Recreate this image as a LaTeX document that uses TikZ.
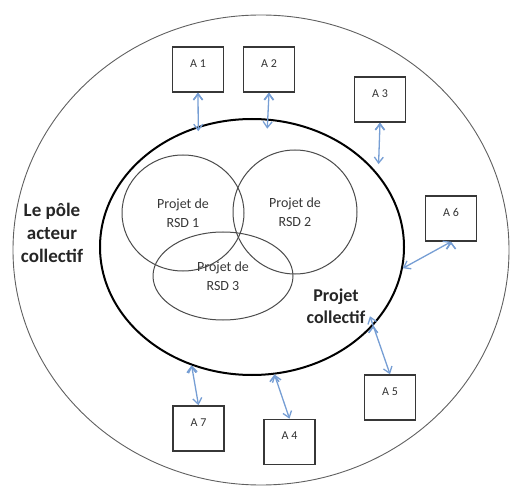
\documentclass[tikz,border=0pt]{standalone}
\usepackage{fontspec}
\setmainfont{Carlito}
\usetikzlibrary{shapes.geometric}
\usetikzlibrary{arrows.meta}
\definecolor{lienbleu}{RGB}{118,158,212}
\definecolor{trait}{RGB}{55,55,55}
\tikzset{
acteur/.style={
  draw=trait,line width=1.6pt,minimum width=51pt,minimum height=45pt,
  inner sep=0pt,text depth=12pt,font=\fontsize{12}{14}\selectfont,text=black!80},
rsd/.style={
  ellipse,draw=trait!90,line width=1pt,inner sep=0pt,align=center,
  font=\fontsize{14}{19}\selectfont,text=trait},
lien/.style={
  draw=lienbleu,line width=1.3pt,<->,>={Straight Barb[length=6pt,width=9pt]}}
}
\begin{document}
\begin{tikzpicture}[x=1pt,y=-1pt]
\useasboundingbox (0,0) rectangle (511,486);
\node[ellipse,draw=gray!75!black,line width=0.9pt,minimum width=496pt,minimum height=470pt](pole) at (261,250){};
\node[ellipse,draw,line width=2pt,minimum width=304pt,minimum height=256pt](projet) at (252,247){};

\node[rsd,minimum width=122pt,minimum height=116pt](rsdun) at (183,213){Projet de\\RSD 1};
\node[rsd,minimum width=124pt,minimum height=124pt](rsddeux) at (295,212){Projet de\\RSD 2};
\node[rsd,minimum width=140pt,minimum height=88pt](rsdtrois) at (223,276){Projet de\\RSD 3};

\node[font=\bfseries\fontsize{19}{23}\selectfont,align=center,text=black!85](poletxt) at (52,233){Le pôle\\acteur\\collectif};
\node[font=\bfseries\fontsize{18}{22}\selectfont,align=center,text=black!85](projettxt) at (336,306){Projet\\collectif};

\node[acteur](a1) at (198,69.5){A 1};
\node[acteur](a2) at (269,69.5){A 2};
\node[acteur](a3) at (380,99.5){A 3};
\node[acteur](a6) at (451,218.5){A 6};
\node[acteur](a5) at (390,397.5){A 5};
\node[acteur](a7) at (198.5,428.5){A 7};
\node[acteur](a4) at (289.5,442){A 4};

\path[lien](a1.south)edge[shorten >=-5pt](projet.114);
\path[lien](a2.south)edge[shorten >=-10pt](projet.83);
\path[lien](a3.south)edge[shorten >=10pt](projet.30);
\path[lien](a6.south)edge(projet.352);
\path[lien](projet.327)edge[shorten <=-10pt](a5.north);
\path[lien](projet.243)edge(a7.north);
\path[lien](projet.280)edge(a4.north);

\end{tikzpicture}
\end{document}
